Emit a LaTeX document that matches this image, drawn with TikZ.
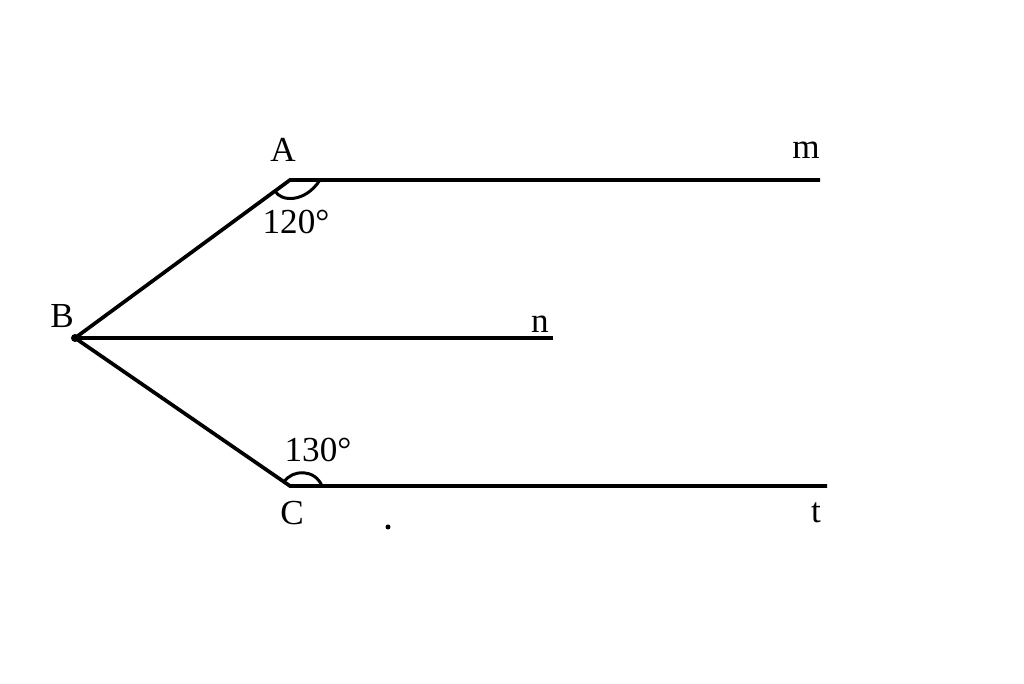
\documentclass[tikz,border=0pt]{standalone}
\usepackage{fontspec}
\setmainfont{Liberation Serif}

\begin{document}
\begin{tikzpicture}[line width=2.1pt,
  lbl/.style={font=\fontsize{20}{24}\selectfont,inner sep=0pt}]
\useasboundingbox (0,0) rectangle (20.48,13.68);
\coordinate (A) at (5.8,10.08);
\coordinate (B) at (1.5,6.92);
\coordinate (C) at (5.8,3.96);
\coordinate (m) at (16.4,10.08);
\coordinate (n) at (11.06,6.92);
\coordinate (t) at (16.54,3.96);

\node[lbl] (labA) at (5.66,10.68) {A};
\node[lbl] (labB) at (1.24,7.36) {B};
\node[lbl] (labC) at (5.84,3.42) {C};
\node[lbl] (labm) at (16.12,10.68) {m};
\node[lbl] (labn) at (10.8,7.2) {n};
\node[lbl] (labt) at (16.32,3.42) {t};
\node[lbl] (angA) at (5.92,9.24) {120°};
\node[lbl] (angC) at (6.36,4.68) {130°};

\draw (m)--(A)--(B)--(C)--(t);
\draw (B)--(n);
\fill (B) circle (0.08);
\fill (7.76,3.14) circle (0.05);

% angle marks
\draw[line width=1.7pt] (5.5,9.86) .. controls (5.62,9.64) and (6.1,9.62) .. (6.4,10.08);
\draw[line width=1.7pt] (5.68,4.04) .. controls (5.85,4.3) and (6.3,4.3) .. (6.44,3.96);
\end{tikzpicture}
\end{document}
